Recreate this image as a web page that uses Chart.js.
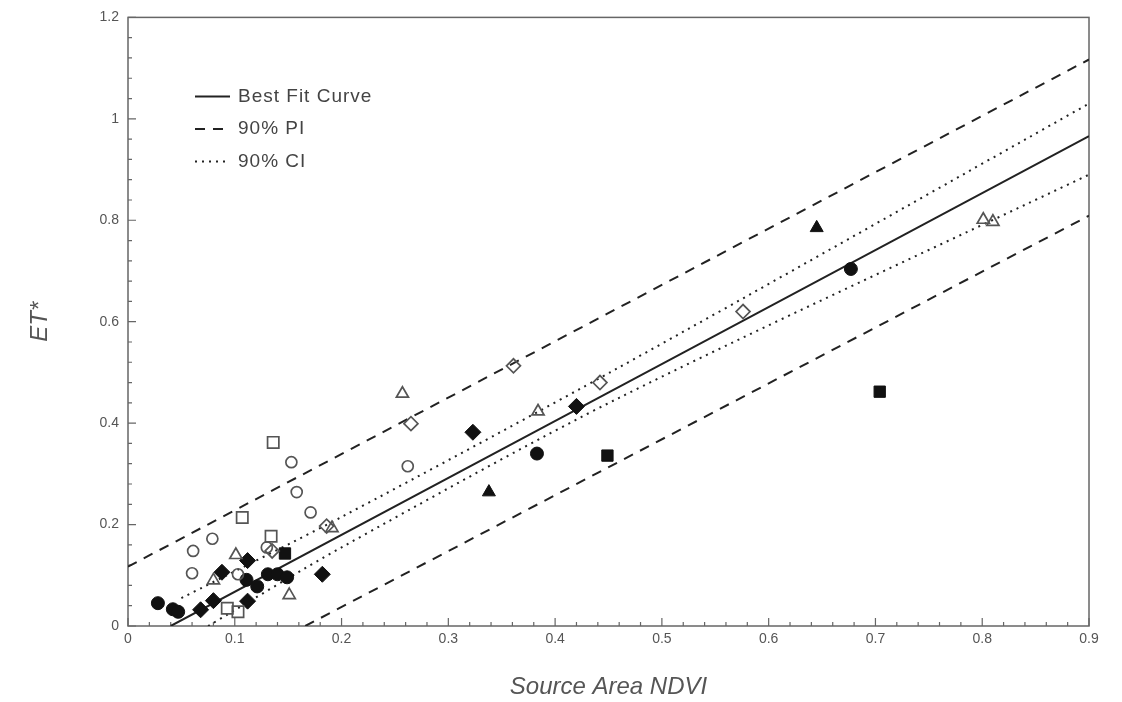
<!DOCTYPE html>
<html>
<head>
<meta charset="utf-8">
<script src="https://cdn.jsdelivr.net/npm/chart.js@4/dist/chart.umd.min.js"></script>
<style>
  html, body { margin: 0; background: #fff; }
</style>
</head>
<body>
<canvas id="etChart" width="1122" height="702"></canvas>
<script>
// tick labels
const xMajor = [0, 0.1, 0.2, 0.3, 0.4, 0.5, 0.6, 0.7, 0.8, 0.9];
const yMajor = [0, 0.2, 0.4, 0.6, 0.8, 1, 1.2];

// observations, [NDVI, ET*]
const openCircles = [[0.153, 0.323], [0.158, 0.264], [0.171, 0.224], [0.079, 0.172], [0.061, 0.148],
  [0.060, 0.104], [0.262, 0.315], [0.130, 0.155], [0.103, 0.102]];
const openSquares = [[0.136, 0.362], [0.107, 0.214], [0.134, 0.177], [0.093, 0.035], [0.103, 0.028]];
const openTriangles = [[0.257, 0.458], [0.384, 0.423], [0.801, 0.801], [0.810, 0.797], [0.101, 0.140],
  [0.080, 0.090], [0.151, 0.061], [0.191, 0.193]];
const openDiamonds = [[0.265, 0.399], [0.361, 0.513], [0.442, 0.480], [0.576, 0.620], [0.186, 0.197], [0.135, 0.148]];
const filledCircles = [[0.028, 0.045], [0.042, 0.033], [0.047, 0.028], [0.383, 0.340], [0.677, 0.704],
  [0.111, 0.091], [0.121, 0.078], [0.131, 0.102], [0.140, 0.102], [0.149, 0.096]];
const filledSquares = [[0.449, 0.336], [0.704, 0.462], [0.147, 0.143]];
const filledTriangles = [[0.338, 0.264], [0.645, 0.785]];
const filledDiamonds = [[0.323, 0.382], [0.420, 0.433], [0.182, 0.102], [0.112, 0.129], [0.088, 0.106],
  [0.080, 0.050], [0.068, 0.032], [0.112, 0.049]];

// fitted curve and intervals
const fitX = [0.04, 0.9], fitY = [0.0, 0.966];
const piUpperX = [0, 0.9], piUpperY = [0.117, 1.117];
const piLowerX = [0.166, 0.9], piLowerY = [0.0, 0.809];
const ciUpperX = [0.05, 0.2, 0.46, 0.9], ciUpperY = [0.055, 0.215, 0.51, 1.03];
const ciLowerX = [0.075, 0.2, 0.46, 0.9], ciLowerY = [0.0, 0.155, 0.45, 0.89];

const pts = arr => arr.map(p => ({ x: p[0], y: p[1] }));
const zip = (xs, ys) => xs.map((x, i) => ({ x: x, y: ys[i] }));
const isMajor = (v, list) => list.some(m => Math.abs(m - v) < 1e-6);

function marker(data, style, filled, radius) {
  return {
    type: 'scatter',
    data: pts(data),
    pointStyle: style,
    pointRadius: radius,
    pointBackgroundColor: filled ? '#111' : 'rgba(0,0,0,0)',
    pointBorderColor: filled ? '#111' : '#555',
    pointBorderWidth: filled ? 1 : 1.7,
    order: 0
  };
}

function curve(label, xs, ys, dash, width) {
  return {
    type: 'line',
    label: label,
    data: zip(xs, ys),
    borderColor: '#222',
    borderWidth: width,
    borderDash: dash,
    pointRadius: 0,
    fill: false,
    tension: 0.3,
    order: 1
  };
}

// frame and inward tick marks
const frameTicks = {
  id: 'frameTicks',
  beforeDatasetsDraw(chart) {
    const { ctx, chartArea: a, scales } = chart;
    ctx.save();
    ctx.strokeStyle = '#666';
    ctx.lineWidth = 1.5;
    ctx.strokeRect(a.left, a.top, a.right - a.left, a.bottom - a.top);
    ctx.lineWidth = 1.2;
    ctx.beginPath();
    scales.x.ticks.forEach(t => {
      const px = scales.x.getPixelForValue(t.value);
      const len = isMajor(t.value, xMajor) ? 8 : 4;
      ctx.moveTo(px, a.bottom);
      ctx.lineTo(px, a.bottom - len);
    });
    scales.y.ticks.forEach(t => {
      const py = scales.y.getPixelForValue(t.value);
      const len = isMajor(t.value, yMajor) ? 8 : 4;
      ctx.moveTo(a.left, py);
      ctx.lineTo(a.left + len, py);
    });
    ctx.stroke();
    ctx.restore();
  }
};

// legend inside the plot
const innerLegend = {
  id: 'innerLegend',
  afterDraw(chart) {
    const { ctx, chartArea: a } = chart;
    const lines = chart.data.datasets.filter(d => d.label);
    ctx.save();
    ctx.font = '19px "Liberation Sans", Arial, sans-serif';
    ctx.letterSpacing = '1px';
    ctx.fillStyle = '#444';
    ctx.textBaseline = 'middle';
    lines.forEach((d, i) => {
      const y = a.top + 79 + i * 32.5;
      const x0 = a.left + 67;
      ctx.strokeStyle = '#222';
      ctx.lineWidth = d.borderWidth;
      ctx.setLineDash(d.borderDash || []);
      ctx.beginPath();
      ctx.moveTo(x0, y);
      ctx.lineTo(x0 + 35, y);
      ctx.stroke();
      ctx.fillText(d.label, x0 + 43, y);
    });
    ctx.restore();
  }
};

const tickFont = { family: '"Liberation Sans", Arial, sans-serif', size: 14 };
const titleFont = { family: '"Liberation Sans", Arial, sans-serif', size: 24, style: 'italic' };

new Chart(document.getElementById('etChart').getContext('2d'), {
  data: {
    datasets: [
      marker(openCircles, 'circle', false, 5.5),
      marker(openSquares, 'rect', false, 8),
      marker(openTriangles, 'triangle', false, 7),
      marker(openDiamonds, 'rectRot', false, 7),
      marker(filledCircles, 'circle', true, 6.5),
      marker(filledSquares, 'rect', true, 8),
      marker(filledTriangles, 'triangle', true, 7.5),
      marker(filledDiamonds, 'rectRot', true, 8),
      curve('Best Fit Curve', fitX, fitY, [], 2),
      curve('90% PI', piUpperX, piUpperY, [10, 8], 2),
      curve('', piLowerX, piLowerY, [10, 8], 2),
      curve('90% CI', ciUpperX, ciUpperY, [2, 5], 2),
      curve('', ciLowerX, ciLowerY, [2, 5], 2)
    ]
  },
  options: {
    responsive: false,
    animation: false,
    devicePixelRatio: 1,
    layout: { padding: { top: 16, right: 33, left: 0, bottom: 0 } },
    plugins: { legend: { display: false }, tooltip: { enabled: false } },
    scales: {
      x: {
        type: 'linear',
        min: 0,
        max: 0.9,
        grid: { display: false, drawTicks: false },
        border: { display: false },
        ticks: {
          stepSize: 0.02,
          autoSkip: false,
          maxRotation: 0,
          padding: 5,
          color: '#555',
          font: tickFont,
          callback: v => isMajor(v, xMajor) ? String(Math.round(v * 10) / 10) : ''
        },
        title: { display: true, text: 'Source Area NDVI', color: '#555', font: titleFont, padding: { top: 0, bottom: 0 } },
        afterFit: s => { s.height = 76; }
      },
      y: {
        type: 'linear',
        min: 0,
        max: 1.2,
        grid: { display: false, drawTicks: false },
        border: { display: false },
        ticks: {
          stepSize: 0.04,
          autoSkip: false,
          padding: 9,
          color: '#555',
          font: tickFont,
          callback: v => isMajor(v, yMajor) ? String(Math.round(v * 10) / 10) : ''
        },
        title: { display: true, text: 'ET*', color: '#555', font: titleFont, padding: { top: 26, bottom: 0 } },
        afterFit: s => { s.width = 128; }
      }
    }
  },
  plugins: [frameTicks, innerLegend]
});
</script>
</body>
</html>
